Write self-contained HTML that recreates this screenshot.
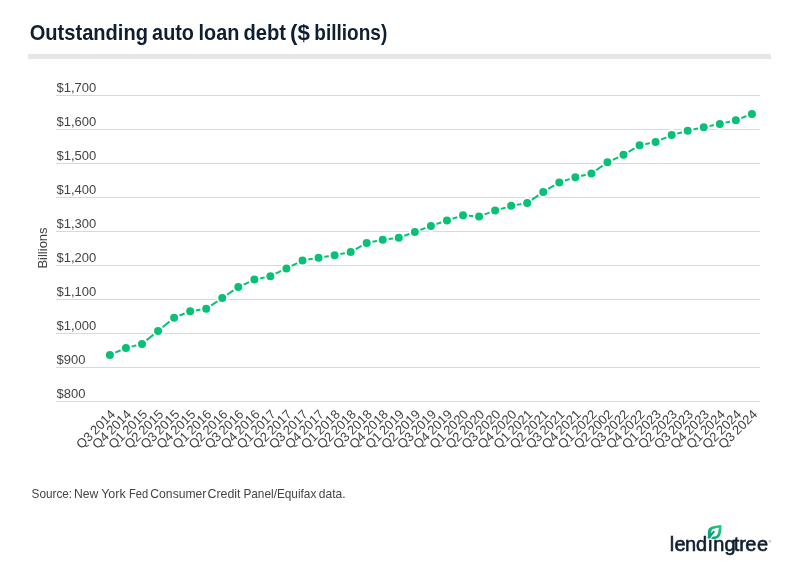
<!DOCTYPE html>
<html lang="en">
<head>
<meta charset="utf-8">
<title>Outstanding auto loan debt ($ billions)</title>
<style>
html,body{margin:0;padding:0;background:#fff;}
body{width:800px;height:570px;overflow:hidden;font-family:"Liberation Sans",sans-serif;}
svg{display:block;will-change:transform;}
text{font-family:"Liberation Sans",sans-serif;}
.title{font-size:22px;font-weight:bold;fill:#101f30;}
.ylab{font-size:13px;fill:#444;}
.xlab{font-size:13px;fill:#444;text-anchor:end;word-spacing:-1.1px;}
.src{font-size:13px;fill:#444;}
.logo{font-size:20px;fill:#101f30;stroke:#101f30;stroke-width:0.6px;}
</style>
</head>
<body>
<svg width="800" height="570" viewBox="0 0 800 570">
<rect x="0" y="0" width="800" height="570" fill="#fff"/>
<text class="title" y="40.2"><tspan x="29.69" textLength="118.29" lengthAdjust="spacingAndGlyphs">Outstanding</tspan> <tspan x="152.12" textLength="41.85" lengthAdjust="spacingAndGlyphs">auto</tspan> <tspan x="198.61" textLength="40.78" lengthAdjust="spacingAndGlyphs">loan</tspan> <tspan x="243.48" textLength="42.53" lengthAdjust="spacingAndGlyphs">debt</tspan> <tspan x="290.1" textLength="19.87" lengthAdjust="spacingAndGlyphs">($</tspan> <tspan x="314.32" textLength="72.9" lengthAdjust="spacingAndGlyphs">billions)</tspan></text>
<rect x="28" y="54" width="743" height="5" fill="#e6e6e6"/>
<g>
<rect x="56" y="95" width="704" height="1" fill="#d9d9d9"/>
<text class="ylab" x="56.5" y="92">$1,700</text>
<rect x="56" y="129" width="704" height="1" fill="#d9d9d9"/>
<text class="ylab" x="56.5" y="126">$1,600</text>
<rect x="56" y="163" width="704" height="1" fill="#d9d9d9"/>
<text class="ylab" x="56.5" y="160">$1,500</text>
<rect x="56" y="197" width="704" height="1" fill="#d9d9d9"/>
<text class="ylab" x="56.5" y="194">$1,400</text>
<rect x="56" y="231" width="704" height="1" fill="#d9d9d9"/>
<text class="ylab" x="56.5" y="228">$1,300</text>
<rect x="56" y="265" width="704" height="1" fill="#d9d9d9"/>
<text class="ylab" x="56.5" y="262">$1,200</text>
<rect x="56" y="299" width="704" height="1" fill="#d9d9d9"/>
<text class="ylab" x="56.5" y="296">$1,100</text>
<rect x="56" y="333" width="704" height="1" fill="#d9d9d9"/>
<text class="ylab" x="56.5" y="330">$1,000</text>
<rect x="56" y="367" width="704" height="1" fill="#d9d9d9"/>
<text class="ylab" x="56.5" y="364">$900</text>
<rect x="56" y="401" width="704" height="1" fill="#d9d9d9"/>
<text class="ylab" x="56.5" y="398">$800</text>
</g>
<text class="ylab" transform="translate(47.3,248) rotate(-90)" text-anchor="middle">Billions</text>
<polyline points="109.90,354.93 125.95,347.96 142.00,343.88 158.05,330.96 174.10,317.70 190.15,311.24 206.20,308.86 222.25,297.98 238.30,287.10 254.35,279.62 270.40,276.22 286.45,268.40 302.50,260.58 318.55,257.86 334.60,255.14 350.65,252.08 366.70,242.90 382.75,239.84 398.80,237.80 414.85,232.02 430.90,225.90 446.95,220.46 463.00,215.36 479.05,216.38 495.10,210.60 511.15,205.84 527.20,203.12 543.25,191.90 559.30,182.38 575.35,177.28 591.40,173.54 607.45,162.32 623.50,154.84 639.55,145.32 655.60,141.92 671.65,135.12 687.70,130.70 703.75,127.13 719.80,123.90 735.85,120.16 751.90,114.04" fill="none" stroke="#08c177" stroke-width="2" stroke-linejoin="round" stroke-linecap="round"/>
<g fill="#08c177" stroke="#fff" stroke-width="2">
<circle cx="109.90" cy="354.93" r="5"/>
<circle cx="125.95" cy="347.96" r="5"/>
<circle cx="142.00" cy="343.88" r="5"/>
<circle cx="158.05" cy="330.96" r="5"/>
<circle cx="174.10" cy="317.70" r="5"/>
<circle cx="190.15" cy="311.24" r="5"/>
<circle cx="206.20" cy="308.86" r="5"/>
<circle cx="222.25" cy="297.98" r="5"/>
<circle cx="238.30" cy="287.10" r="5"/>
<circle cx="254.35" cy="279.62" r="5"/>
<circle cx="270.40" cy="276.22" r="5"/>
<circle cx="286.45" cy="268.40" r="5"/>
<circle cx="302.50" cy="260.58" r="5"/>
<circle cx="318.55" cy="257.86" r="5"/>
<circle cx="334.60" cy="255.14" r="5"/>
<circle cx="350.65" cy="252.08" r="5"/>
<circle cx="366.70" cy="242.90" r="5"/>
<circle cx="382.75" cy="239.84" r="5"/>
<circle cx="398.80" cy="237.80" r="5"/>
<circle cx="414.85" cy="232.02" r="5"/>
<circle cx="430.90" cy="225.90" r="5"/>
<circle cx="446.95" cy="220.46" r="5"/>
<circle cx="463.00" cy="215.36" r="5"/>
<circle cx="479.05" cy="216.38" r="5"/>
<circle cx="495.10" cy="210.60" r="5"/>
<circle cx="511.15" cy="205.84" r="5"/>
<circle cx="527.20" cy="203.12" r="5"/>
<circle cx="543.25" cy="191.90" r="5"/>
<circle cx="559.30" cy="182.38" r="5"/>
<circle cx="575.35" cy="177.28" r="5"/>
<circle cx="591.40" cy="173.54" r="5"/>
<circle cx="607.45" cy="162.32" r="5"/>
<circle cx="623.50" cy="154.84" r="5"/>
<circle cx="639.55" cy="145.32" r="5"/>
<circle cx="655.60" cy="141.92" r="5"/>
<circle cx="671.65" cy="135.12" r="5"/>
<circle cx="687.70" cy="130.70" r="5"/>
<circle cx="703.75" cy="127.13" r="5"/>
<circle cx="719.80" cy="123.90" r="5"/>
<circle cx="735.85" cy="120.16" r="5"/>
<circle cx="751.90" cy="114.04" r="5"/>
</g>
<g>
<text class="xlab" transform="translate(116.05,415.05) rotate(-45)">Q3 2014</text>
<text class="xlab" transform="translate(132.10,415.05) rotate(-45)">Q4 2014</text>
<text class="xlab" transform="translate(148.15,415.05) rotate(-45)">Q1 2015</text>
<text class="xlab" transform="translate(164.20,415.05) rotate(-45)">Q2 2015</text>
<text class="xlab" transform="translate(180.25,415.05) rotate(-45)">Q3 2015</text>
<text class="xlab" transform="translate(196.30,415.05) rotate(-45)">Q4 2015</text>
<text class="xlab" transform="translate(212.35,415.05) rotate(-45)">Q1 2016</text>
<text class="xlab" transform="translate(228.40,415.05) rotate(-45)">Q2 2016</text>
<text class="xlab" transform="translate(244.45,415.05) rotate(-45)">Q3 2016</text>
<text class="xlab" transform="translate(260.50,415.05) rotate(-45)">Q4 2016</text>
<text class="xlab" transform="translate(276.55,415.05) rotate(-45)">Q1 2017</text>
<text class="xlab" transform="translate(292.60,415.05) rotate(-45)">Q2 2017</text>
<text class="xlab" transform="translate(308.65,415.05) rotate(-45)">Q3 2017</text>
<text class="xlab" transform="translate(324.70,415.05) rotate(-45)">Q4 2017</text>
<text class="xlab" transform="translate(340.75,415.05) rotate(-45)">Q1 2018</text>
<text class="xlab" transform="translate(356.80,415.05) rotate(-45)">Q2 2018</text>
<text class="xlab" transform="translate(372.85,415.05) rotate(-45)">Q3 2018</text>
<text class="xlab" transform="translate(388.90,415.05) rotate(-45)">Q4 2018</text>
<text class="xlab" transform="translate(404.95,415.05) rotate(-45)">Q1 2019</text>
<text class="xlab" transform="translate(421.00,415.05) rotate(-45)">Q2 2019</text>
<text class="xlab" transform="translate(437.05,415.05) rotate(-45)">Q3 2019</text>
<text class="xlab" transform="translate(453.10,415.05) rotate(-45)">Q4 2019</text>
<text class="xlab" transform="translate(469.15,415.05) rotate(-45)">Q1 2020</text>
<text class="xlab" transform="translate(485.20,415.05) rotate(-45)">Q2 2020</text>
<text class="xlab" transform="translate(501.25,415.05) rotate(-45)">Q3 2020</text>
<text class="xlab" transform="translate(517.30,415.05) rotate(-45)">Q4 2020</text>
<text class="xlab" transform="translate(533.35,415.05) rotate(-45)">Q1 2021</text>
<text class="xlab" transform="translate(549.40,415.05) rotate(-45)">Q2 2021</text>
<text class="xlab" transform="translate(565.45,415.05) rotate(-45)">Q3 2021</text>
<text class="xlab" transform="translate(581.50,415.05) rotate(-45)">Q4 2021</text>
<text class="xlab" transform="translate(597.55,415.05) rotate(-45)">Q1 2022</text>
<text class="xlab" transform="translate(613.60,415.05) rotate(-45)">Q2 2002</text>
<text class="xlab" transform="translate(629.65,415.05) rotate(-45)">Q3 2022</text>
<text class="xlab" transform="translate(645.70,415.05) rotate(-45)">Q4 2022</text>
<text class="xlab" transform="translate(661.75,415.05) rotate(-45)">Q1 2023</text>
<text class="xlab" transform="translate(677.80,415.05) rotate(-45)">Q2 2023</text>
<text class="xlab" transform="translate(693.85,415.05) rotate(-45)">Q3 2023</text>
<text class="xlab" transform="translate(709.90,415.05) rotate(-45)">Q4 2023</text>
<text class="xlab" transform="translate(725.95,415.05) rotate(-45)">Q1 2024</text>
<text class="xlab" transform="translate(742.00,415.05) rotate(-45)">Q2 2024</text>
<text class="xlab" transform="translate(758.05,415.05) rotate(-45)">Q3 2024</text>
</g>
<text class="src" y="498"><tspan x="31.58" textLength="40.56" lengthAdjust="spacingAndGlyphs">Source:</tspan> <tspan x="73.89" textLength="24.35" lengthAdjust="spacingAndGlyphs">New</tspan> <tspan x="101.16" textLength="24.61" lengthAdjust="spacingAndGlyphs">York</tspan> <tspan x="129.08" textLength="19.11" lengthAdjust="spacingAndGlyphs">Fed</tspan> <tspan x="150.35" textLength="56.04" lengthAdjust="spacingAndGlyphs">Consumer</tspan> <tspan x="207.43" textLength="33.09" lengthAdjust="spacingAndGlyphs">Credit</tspan> <tspan x="243.42" textLength="72.94" lengthAdjust="spacingAndGlyphs">Panel/Equifax</tspan> <tspan x="318.86" textLength="26.71" lengthAdjust="spacingAndGlyphs">data.</tspan></text>
<g>
<text class="logo" y="550.7" x="669.85 674.60 685.00 696.10 708.00 713.20 724.60 733.80 739.20 745.30 757.00">lendingtree</text>
<text x="768.7" y="542.6" style="font-size:3px;fill:#101f30">®</text>
<rect x="707.5" y="534.5" width="5.2" height="4.9" fill="#fff"/>
<defs><linearGradient id="lg" x1="0.9" y1="0" x2="0.1" y2="1"><stop offset="0" stop-color="#22cf7e"/><stop offset="1" stop-color="#089b72"/></linearGradient></defs>
<path d="M721.5 525 C717.4 525.3 713.6 525.9 710.6 527.2 C708.4 528.3 707.9 530.5 707.8 532.5 C707.7 534.6 707.9 536.5 708.4 538 C710 538.6 712.4 539.1 714.7 539 C717 538.8 718.9 537.6 720.1 535.4 C721.4 532.6 721.5 528.5 721.5 525 Z" fill="url(#lg)"/>
<path d="M718.7 527.8 C716.2 528.1 713.8 528.6 712.3 529.5 C711.5 530.1 711.3 531.2 711.3 532.6 C711.3 533.9 711.4 535.2 711.6 536.2 C712.5 536.5 713.4 536.5 714.4 536.4 C715.7 536.3 716.7 535.6 717.4 534.4 C718.4 532.6 718.7 530.2 718.7 527.8 Z" fill="#fff"/>
<path d="M708.2 538.2 L714.4 531.1" stroke="#0a9f73" stroke-width="2.1" fill="none"/>
<path d="M709.9 539.3 L715.6 532.4" stroke="#fff" stroke-width="1.1" fill="none"/>
</g>
</svg>
</body>
</html>
